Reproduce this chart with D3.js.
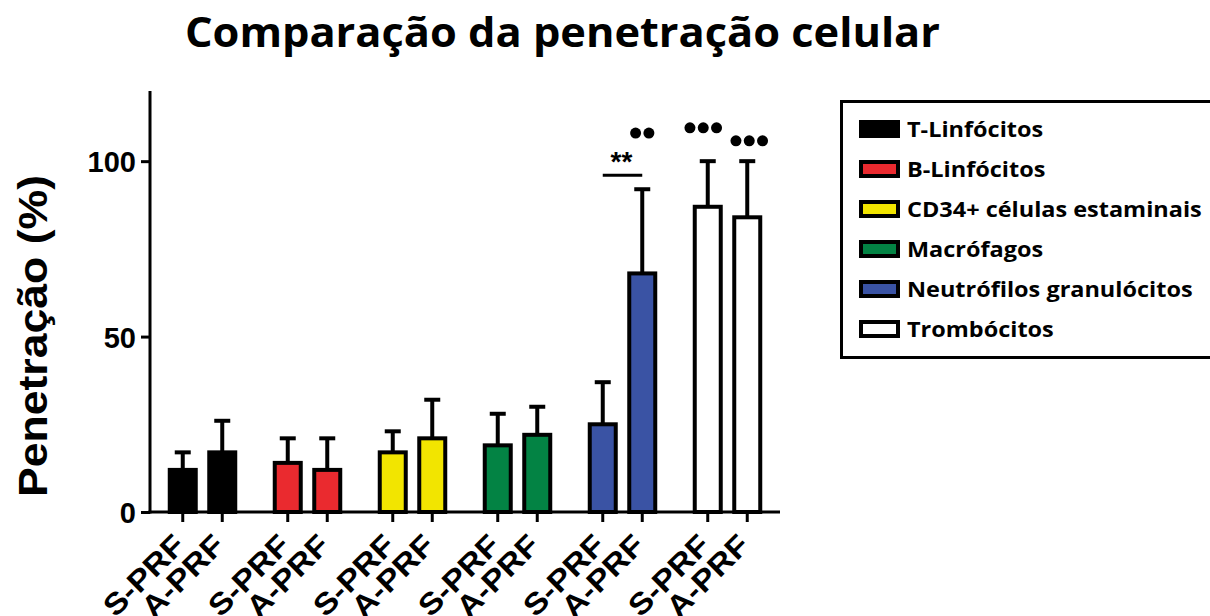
<!DOCTYPE html>
<html>
<head>
<meta charset="utf-8">
<script src="https://cdn.jsdelivr.net/npm/d3@7"></script>
<style>
  html, body { margin: 0; padding: 0; background: #fff; }
  svg { display: block; }
</style>
</head>
<body>
<svg id="chart" width="1210" height="616"></svg>
<script>
// ---- data ----
const categories = ["T-Linfócitos", "B-Linfócitos", "CD34+ células estaminais", "Macrófagos", "Neutrófilos granulócitos", "Trombócitos"];
const treatments = ["S-PRF", "A-PRF"];
const sprfMean = [12, 14, 17, 19, 25, 87];
const sprfUpper = [17, 21, 23, 28, 37, 100];
const aprfMean = [17, 12, 21, 22, 68, 84];
const aprfUpper = [26, 21, 32, 30, 92, 100];
const colors = ["#000000", "#ea2a2f", "#f2e500", "#038344", "#3a53a4", "#ffffff"];
const yTicks = [0, 50, 100];
const sigBrackets = [{ group: 4, value: 96, label: "**" }];
const dotMarks = [
  { group: 4, treatment: "A-PRF", value: 108, count: 2, shift: 0 },
  { group: 5, treatment: "S-PRF", value: 109.5, count: 3, shift: -4.5 },
  { group: 5, treatment: "A-PRF", value: 105.8, count: 3, shift: 2 }
];

// ---- layout ----
const svg = d3.select("#chart");
const x0 = 150, x1 = 780, yBase = 512, yTop = 91;

const xGroup = d3.scaleBand().domain(d3.range(categories.length)).range([x0, x1]).padding(0);
const xInner = d3.scalePoint().domain(treatments).range([32.75, 72.25]);
const y = d3.scaleLinear().domain([0, 120]).range([yBase, yTop]);

const bars = [];
categories.forEach((c, i) => {
  bars.push({ group: i, treatment: "S-PRF", mean: sprfMean[i], upper: sprfUpper[i], color: colors[i] });
  bars.push({ group: i, treatment: "A-PRF", mean: aprfMean[i], upper: aprfUpper[i], color: colors[i] });
});
const cx = d => xGroup(d.group) + xInner(d.treatment);

// title
svg.append("text")
  .attr("x", 562.5).attr("y", 47)
  .attr("text-anchor", "middle")
  .attr("font-family", "'Open Sans', sans-serif")
  .attr("font-weight", 700)
  .attr("font-size", 41)
  .attr("textLength", 755).attr("lengthAdjust", "spacingAndGlyphs")
  .text("Comparação da penetração celular");

// y title
svg.append("text")
  .attr("transform", "translate(47,336) rotate(-90)")
  .attr("text-anchor", "middle")
  .attr("font-family", "'Liberation Sans', Arial, sans-serif")
  .attr("font-weight", 700)
  .attr("font-size", 41)
  .attr("textLength", 322).attr("lengthAdjust", "spacingAndGlyphs")
  .text("Penetração (%)");

// error bars (drawn beneath bars)
const barW = 26, capW = 16;
const eb = svg.append("g");
eb.selectAll("line.v").data(bars).join("line")
  .attr("x1", cx).attr("x2", cx)
  .attr("y1", d => y(d.mean)).attr("y2", d => y(d.upper))
  .attr("stroke", "#000").attr("stroke-width", 4);
eb.selectAll("line.c").data(bars).join("line")
  .attr("x1", d => cx(d) - capW / 2).attr("x2", d => cx(d) + capW / 2)
  .attr("y1", d => y(d.upper)).attr("y2", d => y(d.upper))
  .attr("stroke", "#000").attr("stroke-width", 4);

// bars
svg.append("g").selectAll("rect").data(bars).join("rect")
  .attr("x", d => cx(d) - barW / 2)
  .attr("width", barW)
  .attr("y", d => y(d.mean))
  .attr("height", d => y(0) - y(d.mean))
  .attr("fill", d => d.color)
  .attr("stroke", "#000").attr("stroke-width", 4);

// y axis
const yAxis = svg.append("g").attr("transform", `translate(${x0},0)`)
  .call(d3.axisLeft(y).tickValues(yTicks).tickSize(9).tickPadding(5).tickSizeOuter(0));
yAxis.select(".domain").attr("stroke-width", 3).attr("d", `M0,${yTop}V${yBase + 1.5}`);
yAxis.selectAll(".tick line").attr("stroke-width", 3);
yAxis.selectAll(".tick text")
  .attr("font-family", "'Liberation Sans', Arial, sans-serif")
  .attr("font-weight", 700).attr("font-size", 29).attr("fill", "#000")
  .attr("dy", "0.36em");

// x axis
const xAxisG = svg.append("g").attr("transform", `translate(0,${yBase})`);
xAxisG.append("line").attr("x1", x0 - 1.5).attr("x2", x1).attr("y1", 0).attr("y2", 0)
  .attr("stroke", "#000").attr("stroke-width", 3);
xAxisG.selectAll("line.tk").data(bars).join("line").attr("class", "tk")
  .attr("x1", cx).attr("x2", cx).attr("y1", 0).attr("y2", 10)
  .attr("stroke", "#000").attr("stroke-width", 3);
xAxisG.selectAll("text.lbl").data(bars).join("text").attr("class", "lbl")
  .attr("transform", d => `translate(${cx(d) + 4},${35}) rotate(-45) scale(1.12,1)`)
  .attr("text-anchor", "end")
  .attr("font-family", "'Liberation Sans', Arial, sans-serif")
  .attr("font-weight", 700).attr("font-size", 30)
  .text(d => d.treatment);

// significance bracket
sigBrackets.forEach(s => {
  const xa = xGroup(s.group) + xInner("S-PRF");
  const xb = xGroup(s.group) + xInner("A-PRF");
  svg.append("line").attr("x1", xa).attr("x2", xb)
    .attr("y1", y(s.value)).attr("y2", y(s.value))
    .attr("stroke", "#000").attr("stroke-width", 3);
  svg.append("text").attr("x", (xa + xb) / 2 - 1).attr("y", y(s.value) - 4)
    .attr("text-anchor", "middle")
    .attr("font-family", "'Liberation Sans', Arial, sans-serif")
    .attr("font-weight", 700).attr("font-size", 28)
    .text(s.label);
});

// dot marks
dotMarks.forEach(m => {
  const c = xGroup(m.group) + xInner(m.treatment) + m.shift;
  const sp = 13.3;
  d3.range(m.count).forEach(k => {
    svg.append("circle")
      .attr("cx", c + (k - (m.count - 1) / 2) * sp)
      .attr("cy", y(m.value))
      .attr("r", 5.5).attr("fill", "#000");
  });
});

// legend
const lg = svg.append("g");
lg.append("rect").attr("x", 841.5).attr("y", 101.5).attr("width", 400).attr("height", 256)
  .attr("fill", "none").attr("stroke", "#000").attr("stroke-width", 3);
const rowY = d3.scalePoint().domain(d3.range(categories.length)).range([129, 329]);
const items = lg.selectAll("g.item").data(categories).join("g").attr("class", "item")
  .attr("transform", (d, i) => `translate(0,${rowY(i)})`);
items.append("rect").attr("x", 861).attr("y", -7).attr("width", 37).attr("height", 14)
  .attr("fill", (d, i) => colors[i]).attr("stroke", "#000").attr("stroke-width", 4);
items.append("text")
  .attr("transform", "translate(907,0) scale(1.067,1)")
  .attr("dy", "0.36em")
  .attr("font-family", "'Open Sans', sans-serif")
  .attr("font-weight", 700).attr("font-size", 22)
  .text(d => d);
</script>
</body>
</html>
